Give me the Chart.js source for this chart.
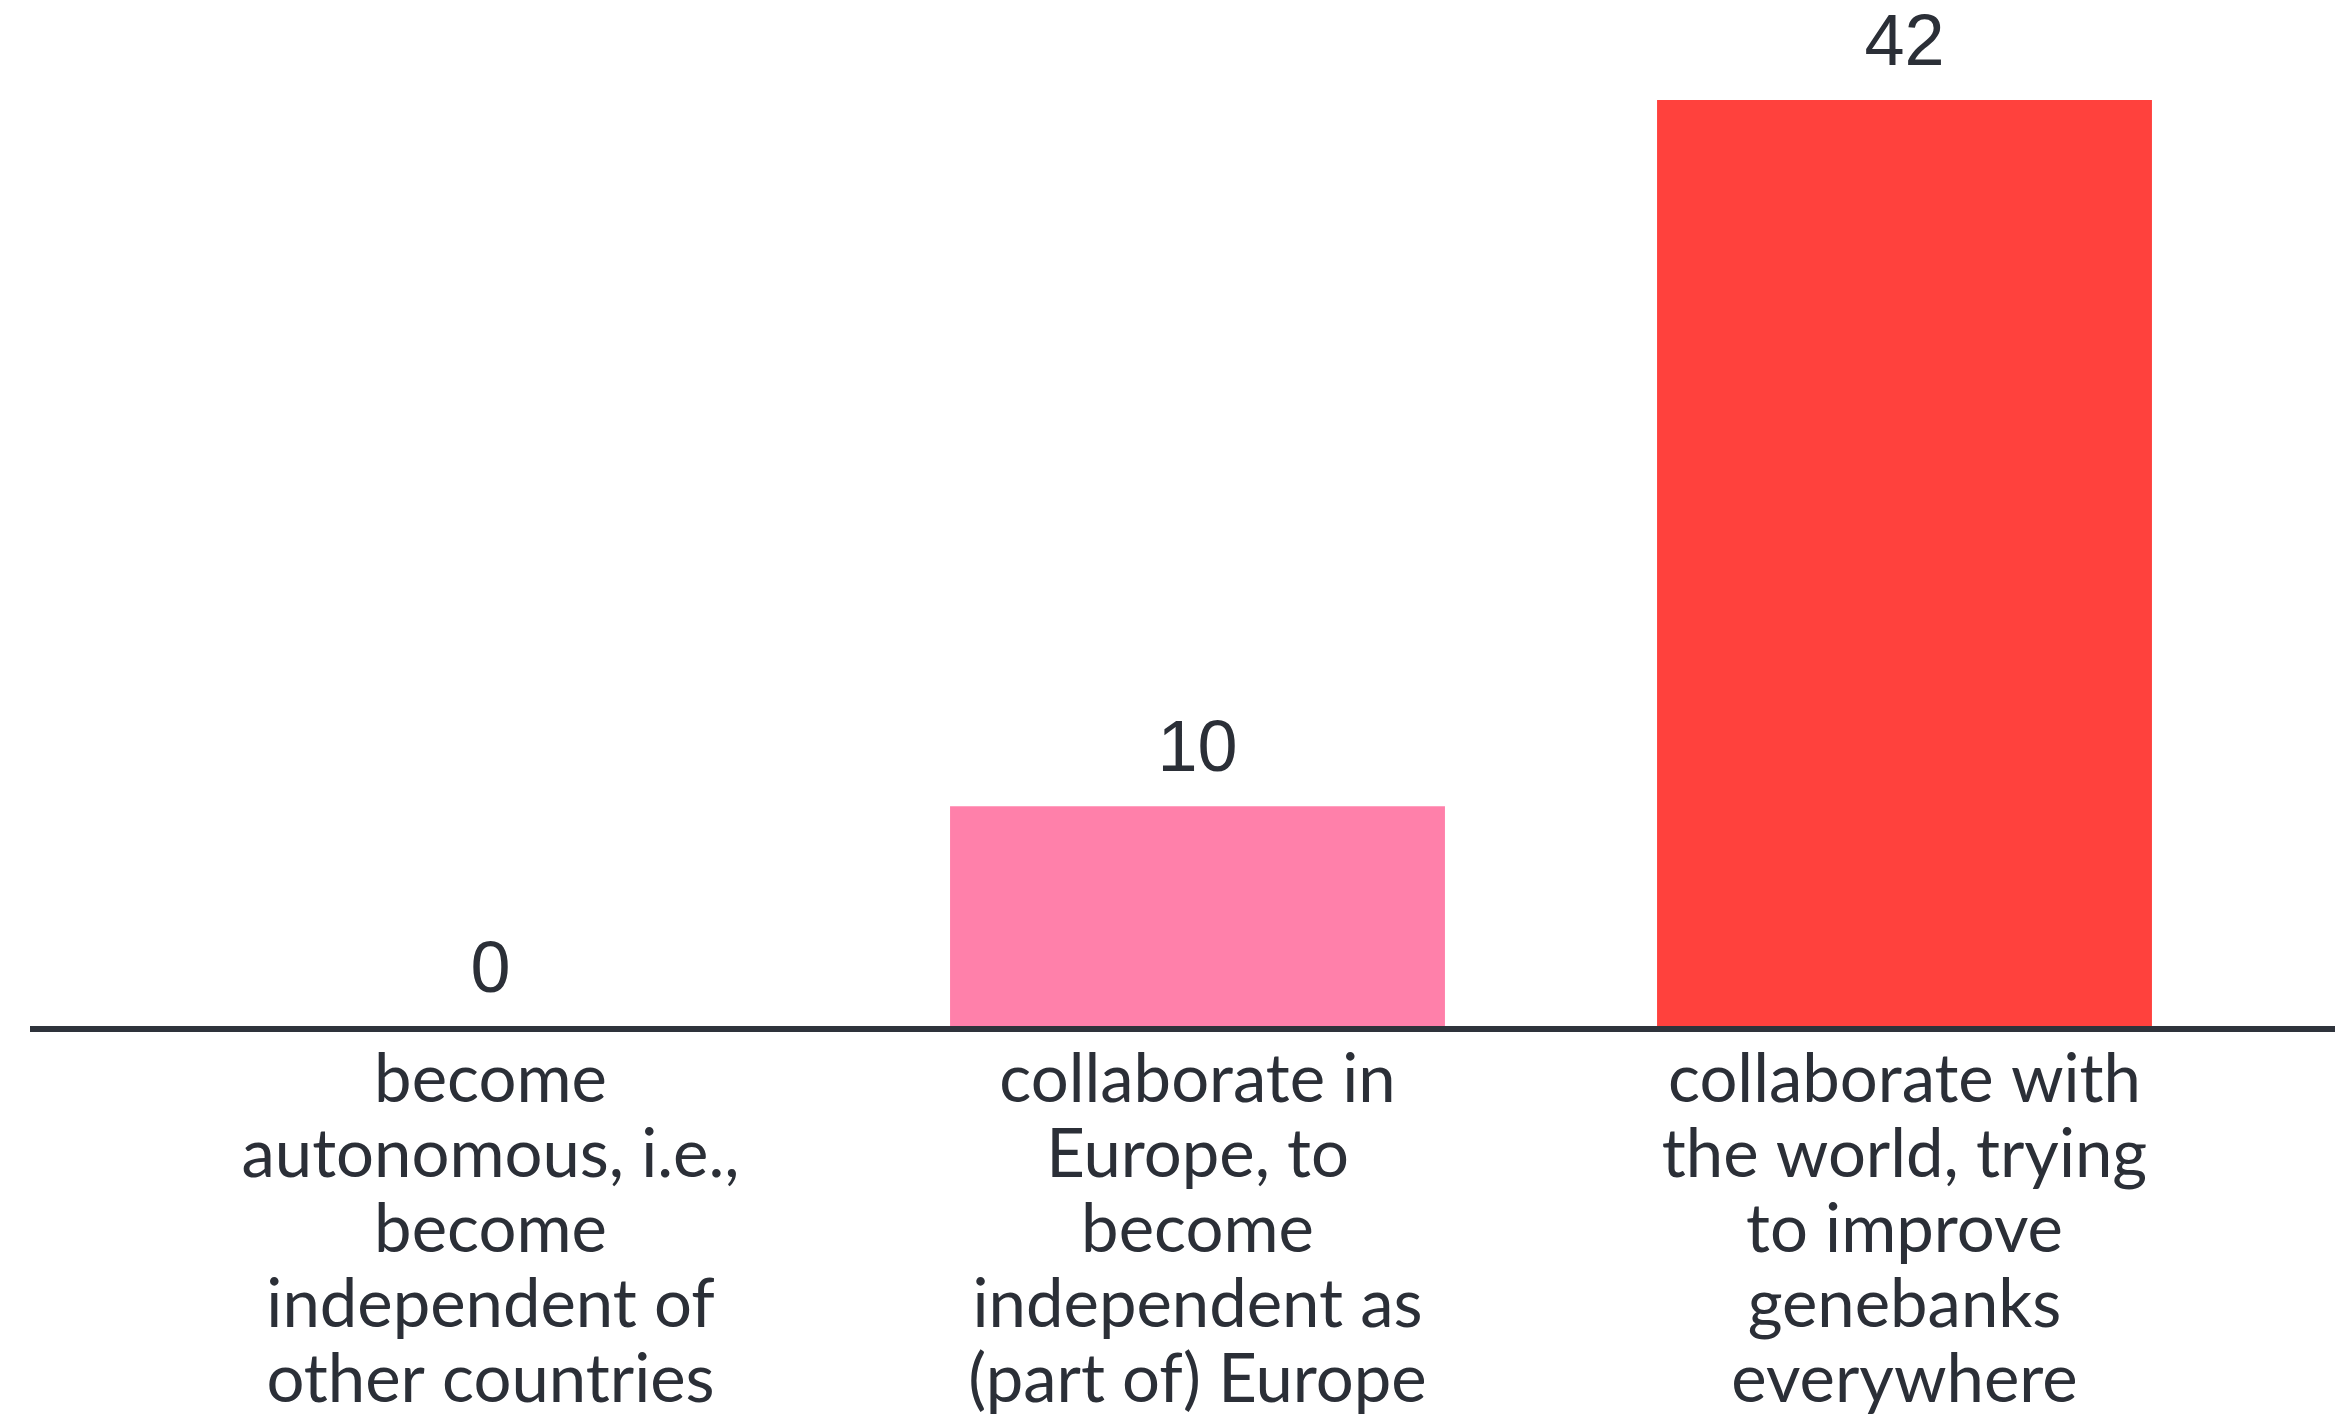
<!DOCTYPE html>
<html>
<head>
<meta charset="utf-8">
<script src="https://cdn.jsdelivr.net/npm/chart.js@4"></script>
<style>
  html, body { margin: 0; padding: 0; background: #fff; }
  #wrap { width: 2335px; height: 1418px; position: relative; }
</style>
</head>
<body>
<div id="wrap"><canvas id="barChart"></canvas></div>
<script>
// category labels, already broken into lines like the original
const CATEGORIES = [
  ["become", "autonomous, i.e.,", "become", "independent of", "other countries"],
  ["collaborate in", "Europe, to", "become", "independent as", "(part of) Europe"],
  ["collaborate with", "the world, trying", "to improve", "genebanks", "everywhere"],
];
const VALUES = [0, 10, 42];
const COLORS = ["#ff80aa", "#ff80aa", "#ff413d"];

const TEXT = "#2b2f37";

// value above each bar
const valueLabels = {
  id: "valueLabels",
  afterDatasetsDraw(chart) {
    const ctx = chart.ctx;
    const meta = chart.getDatasetMeta(0);
    ctx.save();
    ctx.font = "72px 'Liberation Sans', Arial, sans-serif";
    ctx.fillStyle = TEXT;
    ctx.textAlign = "center";
    ctx.textBaseline = "alphabetic";
    meta.data.forEach((bar, i) => {
      ctx.fillText(String(VALUES[i]), bar.x, bar.y - 35);
    });
    ctx.restore();
  },
};

// baseline runs wider than the plot area
const baseline = {
  id: "baseline",
  afterDatasetsDraw(chart) {
    const ctx = chart.ctx;
    const y = chart.scales.y.getPixelForValue(0);
    ctx.save();
    ctx.strokeStyle = "#2e333b";
    ctx.lineWidth = 6;
    ctx.beginPath();
    ctx.moveTo(30, y + 2);
    ctx.lineTo(chart.width, y + 2);
    ctx.stroke();
    ctx.restore();
  },
};

new Chart(document.getElementById("barChart"), {
  type: "bar",
  data: {
    labels: CATEGORIES,
    datasets: [{
      data: VALUES,
      backgroundColor: COLORS,
      barPercentage: 0.7,
      categoryPercentage: 1,
    }],
  },
  options: {
    responsive: true,
    maintainAspectRatio: false,
    animation: false,
    layout: { padding: { left: 137, right: 77, top: 100, bottom: 0 } },
    plugins: {
      legend: { display: false },
      tooltip: { enabled: false },
    },
    scales: {
      x: {
        afterFit(scale) { scale.height = 391; },
        grid: { display: false, drawTicks: false },
        border: { display: false },
        ticks: {
          color: TEXT,
          padding: 16,
          maxRotation: 0,
          autoSkip: false,
          font: { family: "Lato, 'Noto Sans', sans-serif", size: 67, lineHeight: 1.12 },
        },
      },
      y: {
        display: false,
        min: 0,
        max: 42,
      },
    },
  },
  plugins: [valueLabels, baseline],
});
</script>
</body>
</html>
